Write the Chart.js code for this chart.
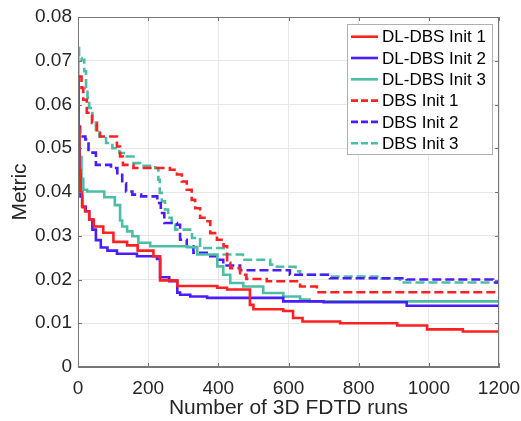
<!DOCTYPE html>
<html lang="en">
<head>
  <meta charset="UTF-8">
  <title>Metric vs FDTD runs</title>
  <script src="https://cdn.jsdelivr.net/npm/chart.js"></script>
  <style>
    body {
      margin: 0;
      padding: 0;
      background-color: #fff;
    }

    .wrap {
      width: 521px;
      height: 421px;
    }
  </style>
</head>
<body>
  <div class="wrap">
    <canvas id="metricChart" width="521" height="421"></canvas>
  </div>

  <script>
    // tick labels
    const xTicks = [0, 200, 400, 600, 800, 1000, 1200];
    const yTickLabels = ['0', '0.01', '0.02', '0.03', '0.04', '0.05', '0.06', '0.07', '0.08'];

    // series (runs = x, metric = y)
    const dlInit1Runs = [0, 2, 4, 7, 12, 20, 32, 45, 72, 101, 140, 170, 215, 234, 283, 397, 425, 490, 500, 585, 613, 640, 747, 910, 995, 1097, 1200];
    const dlInit1Metric = [0.0664, 0.055, 0.045, 0.040, 0.0366, 0.0356, 0.0337, 0.0321, 0.0307, 0.0286, 0.0278, 0.0266, 0.0253, 0.0198, 0.0185, 0.0181, 0.0177, 0.0142, 0.0132, 0.0128, 0.0112, 0.0104, 0.0100, 0.0095, 0.0086, 0.0081, 0.0081];

    const dlInit2Runs = [0, 2, 4, 7, 12, 22, 32, 41, 51, 65, 84, 111, 168, 225, 234, 260, 283, 291, 320, 368, 585, 700, 937, 1200];
    const dlInit2Metric = [0.0549, 0.050, 0.044, 0.039, 0.0366, 0.0356, 0.0337, 0.0314, 0.029, 0.0273, 0.0266, 0.0259, 0.0253, 0.0247, 0.0205, 0.0196, 0.0170, 0.0165, 0.0161, 0.0158, 0.0150, 0.0148, 0.0140, 0.0138];

    const dlInit3Runs = [0, 1, 5, 10, 15, 26, 75, 105, 120, 126, 140, 155, 172, 206, 311, 340, 397, 414, 434, 471, 528, 585, 633, 660, 1200];
    const dlInit3Metric = [0.0729, 0.054, 0.048, 0.043, 0.0405, 0.0401, 0.0388, 0.0370, 0.0335, 0.0321, 0.0310, 0.0299, 0.0284, 0.0276, 0.0274, 0.0257, 0.0230, 0.0211, 0.0192, 0.0184, 0.0169, 0.0161, 0.0154, 0.0150, 0.0147];

    const dbsInit1Runs = [0, 10, 15, 25, 40, 54, 63, 111, 120, 128, 158, 262, 282, 296, 310, 324, 334, 348, 365, 377, 396, 415, 425, 434, 462, 480, 538, 633, 681, 1200];
    const dbsInit1Metric = [0.0664, 0.0638, 0.0611, 0.0581, 0.0558, 0.0535, 0.0527, 0.0504, 0.0481, 0.0462, 0.0455, 0.0451, 0.0440, 0.0424, 0.0405, 0.0382, 0.0363, 0.0341, 0.0333, 0.0306, 0.0291, 0.0276, 0.0238, 0.0226, 0.0211, 0.0201, 0.0196, 0.0184, 0.0171, 0.0171];

    const dbsInit2Runs = [0, 6, 21, 30, 51, 94, 112, 126, 137, 155, 180, 226, 236, 246, 282, 291, 310, 329, 377, 396, 414, 462, 604, 718, 937, 1183, 1200];
    const dbsInit2Metric = [0.0549, 0.0527, 0.0520, 0.0490, 0.0462, 0.0455, 0.0443, 0.0420, 0.0401, 0.0394, 0.0390, 0.0375, 0.0352, 0.0329, 0.0325, 0.0291, 0.0276, 0.0261, 0.0253, 0.0245, 0.0232, 0.0221, 0.0211, 0.0203, 0.0200, 0.0193, 0.0193];

    const dbsInit3Runs = [0, 3, 10, 18, 23, 27, 32, 41, 51, 61, 80, 98, 118, 135, 158, 177, 220, 229, 233, 239, 248, 257, 267, 277, 325, 348, 415, 470, 548, 567, 620, 633, 718, 860, 918, 1200];
    const dbsInit3Metric = [0.0729, 0.0706, 0.0702, 0.0676, 0.0638, 0.0615, 0.0592, 0.0565, 0.0542, 0.0527, 0.0512, 0.0500, 0.0489, 0.0481, 0.0466, 0.0460, 0.0455, 0.0428, 0.0398, 0.0379, 0.0360, 0.0341, 0.0325, 0.0314, 0.0295, 0.0272, 0.0257, 0.0245, 0.0234, 0.0229, 0.0219, 0.0211, 0.0207, 0.0202, 0.0193, 0.0193];

    const RED = '#ff2121';
    const BLUE = '#4a1cff';
    const TEAL = '#4dbea6';
    const FONT = "'Liberation Sans', Arial, Helvetica, sans-serif";

    function pts(xs, ys) {
      return xs.map((x, i) => ({ x: x, y: ys[i] }));
    }

    function series(label, xs, ys, color, dashed) {
      return {
        label: label,
        data: pts(xs, ys),
        borderColor: color,
        backgroundColor: color,
        borderWidth: 2.6,
        borderDash: dashed ? [9, 4] : [],
        pointRadius: 0,
        stepped: true,
        fill: false
      };
    }

    // box around the plot, inward ticks and the legend, matlab style
    const boxPlugin = {
      id: 'box',
      afterDatasetsDraw(chart) {
        const { ctx, chartArea: a, scales } = chart;
        ctx.save();
        ctx.strokeStyle = '#777';
        ctx.lineWidth = 1;
        ctx.strokeRect(a.left + 0.5, a.top + 0.5, a.right - a.left - 1, a.bottom - a.top - 1);
        ctx.beginPath();
        xTicks.forEach(v => {
          const px = Math.round(scales.x.getPixelForValue(v)) + 0.5;
          ctx.moveTo(px, a.bottom); ctx.lineTo(px, a.bottom - 4);
          ctx.moveTo(px, a.top); ctx.lineTo(px, a.top + 4);
        });
        yTickLabels.forEach((t, i) => {
          const py = Math.round(scales.y.getPixelForValue(i * 0.01)) + 0.5;
          ctx.moveTo(a.left, py); ctx.lineTo(a.left + 4, py);
          ctx.moveTo(a.right, py); ctx.lineTo(a.right - 4, py);
        });
        ctx.stroke();

        // legend
        const lx = 347, ly = 24, lw = 145, lh = 130;
        ctx.fillStyle = '#fff';
        ctx.fillRect(lx, ly, lw, lh);
        ctx.strokeStyle = '#b0b0b0';
        ctx.strokeRect(lx + 0.5, ly + 0.5, lw, lh);
        ctx.font = '17px ' + FONT;
        ctx.textBaseline = 'middle';
        chart.data.datasets.forEach((ds, i) => {
          const y = 36.7 + i * 21.3;
          ctx.strokeStyle = ds.borderColor;
          ctx.lineWidth = 2.6;
          ctx.setLineDash(ds.borderDash.length ? [7, 3] : []);
          ctx.beginPath();
          ctx.moveTo(351, y); ctx.lineTo(378, y);
          ctx.stroke();
          ctx.setLineDash([]);
          ctx.fillStyle = '#000';
          ctx.fillText(ds.label, 382, y + 1);
        });
        ctx.restore();
      }
    };

    document.addEventListener('DOMContentLoaded', () => {
      const ctx = document.getElementById('metricChart').getContext('2d');

      new Chart(ctx, {
        type: 'line',
        data: {
          datasets: [
            series('DL-DBS Init 1', dlInit1Runs, dlInit1Metric, RED, false),
            series('DL-DBS Init 2', dlInit2Runs, dlInit2Metric, BLUE, false),
            series('DL-DBS Init 3', dlInit3Runs, dlInit3Metric, TEAL, false),
            series('DBS Init 1', dbsInit1Runs, dbsInit1Metric, RED, true),
            series('DBS Init 2', dbsInit2Runs, dbsInit2Metric, BLUE, true),
            series('DBS Init 3', dbsInit3Runs, dbsInit3Metric, TEAL, true)
          ]
        },
        options: {
          responsive: false,
          animation: false,
          layout: { padding: { left: 8, right: 22, top: 17, bottom: 0 } },
          plugins: {
            legend: { display: false },
            tooltip: { enabled: false }
          },
          scales: {
            x: {
              type: 'linear',
              min: 0,
              max: 1200,
              afterBuildTicks: (s) => { s.ticks = xTicks.map(v => ({ value: v })); },
              afterFit: (s) => { s.height = 54; s.paddingLeft = 0; s.paddingRight = 0; },
              ticks: {
                padding: 10,
                color: '#262626',
                font: { family: FONT, size: 19 },
                maxRotation: 0,
                callback: (v) => String(v)
              },
              grid: { color: '#e8e8e8', drawTicks: false },
              border: { color: '#777' },
              title: {
                display: true,
                text: 'Number of 3D FDTD runs',
                color: '#262626',
                font: { family: FONT, size: 21 },
                padding: { top: 0, bottom: 0 }
              }
            },
            y: {
              min: 0,
              max: 0.08,
              afterBuildTicks: (s) => { s.ticks = yTickLabels.map((t, i) => ({ value: i * 0.01 })); },
              afterFit: (s) => { s.width = 70; s.paddingTop = 0; s.paddingBottom = 0; },
              ticks: {
                padding: 6,
                color: '#262626',
                font: { family: FONT, size: 19 },
                callback: (v, i) => yTickLabels[i]
              },
              grid: { color: '#e8e8e8', drawTicks: false },
              border: { color: '#777' },
              title: {
                display: true,
                text: 'Metric',
                color: '#262626',
                font: { family: FONT, size: 21 },
                padding: { top: 0, bottom: 0 }
              }
            }
          }
        },
        plugins: [boxPlugin]
      });
    });
  </script>
</body>
</html>
